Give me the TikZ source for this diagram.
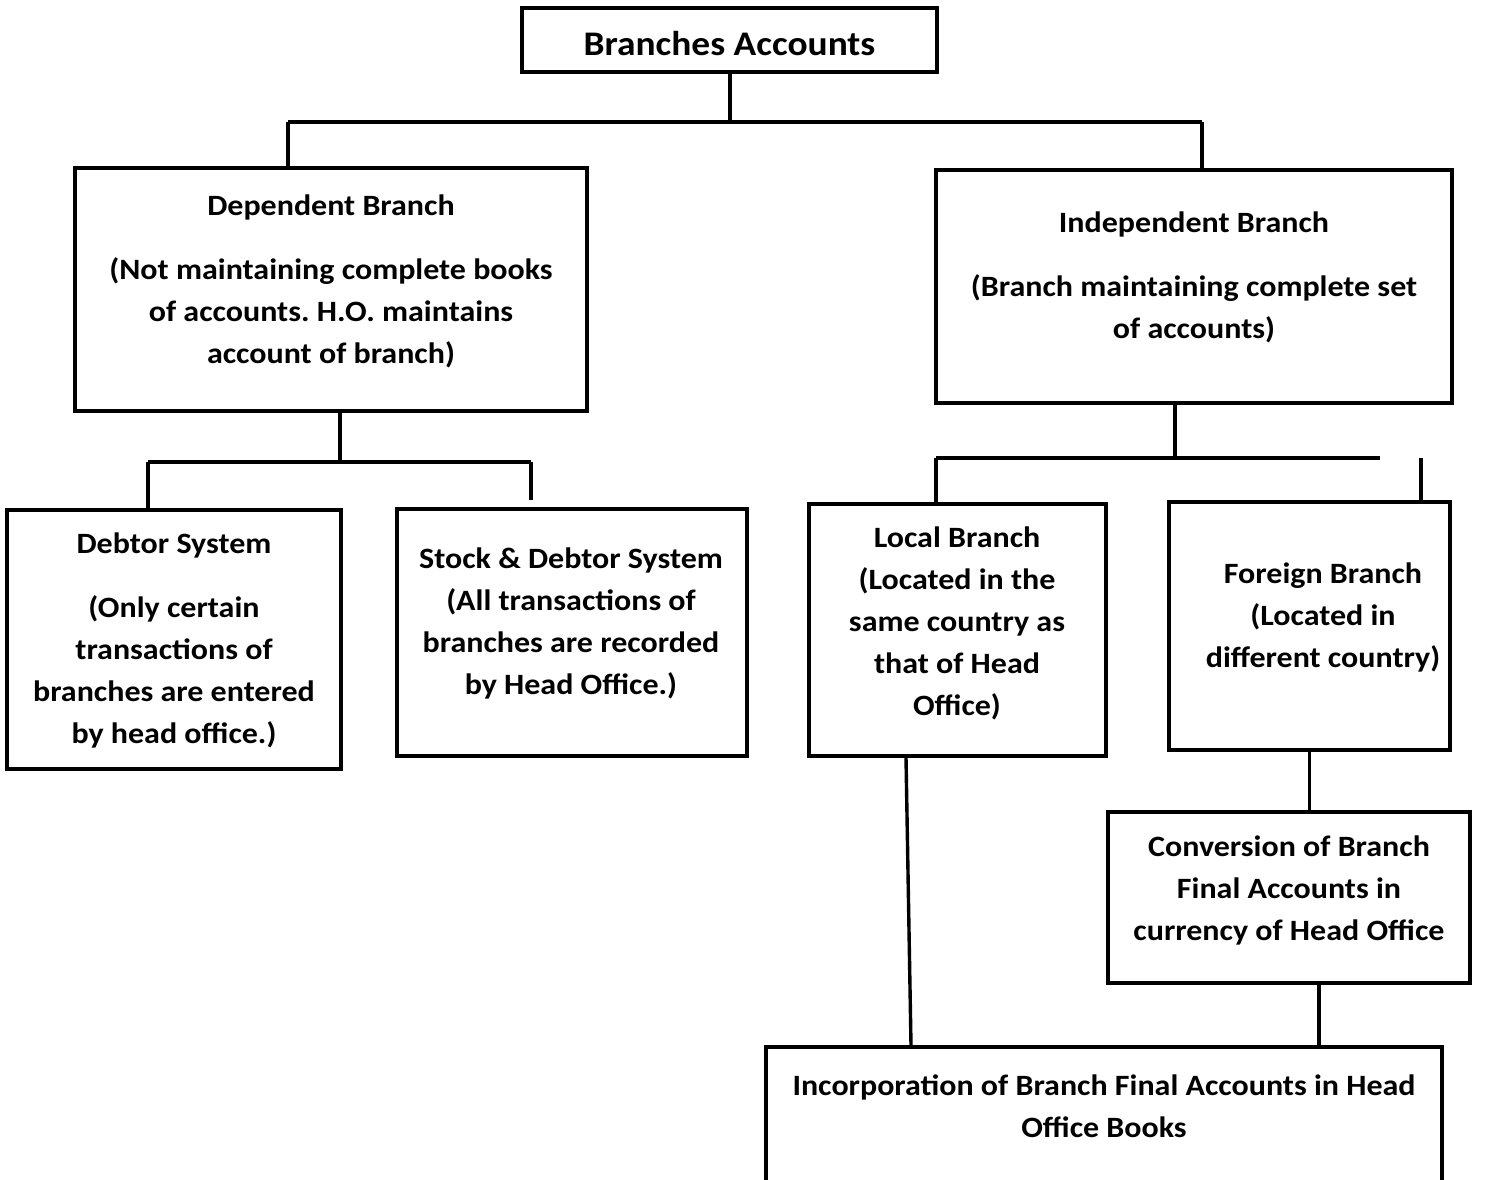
\documentclass[tikz,border=0pt]{standalone}
\usepackage{fontspec}
\setmainfont[FakeStretch=1.085]{Carlito}
\frenchspacing
\tikzset{
  box/.style 2 args={draw,line width=3.4pt,minimum width=#1,minimum height=#2,inner sep=0pt},
  txt/.style={align=center,inner sep=0pt,font=\bfseries\fontsize{29.5}{42}\selectfont},
  link/.style={line width=3.4pt}
}
\begin{document}
\begin{tikzpicture}[x=1pt,y=-1pt]
\useasboundingbox (0,0) rectangle (1488,1180);
% boxes
\node[box={415pt}{64pt}] (title) at (729.5,40) {};
\node[box={512pt}{243pt}] (dep) at (331,289.5) {};
\node[box={516pt}{233pt}] (indep) at (1194,286.5) {};
\node[box={334pt}{259pt}] (debtor) at (174,639.5) {};
\node[box={350pt}{247pt}] (stock) at (572,632.5) {};
\node[box={297pt}{252pt}] (local) at (957.5,630) {};
\node[box={281pt}{248pt}] (foreign) at (1309.5,626) {};
\node[box={362pt}{171pt}] (conv) at (1289,897.5) {};
\node[box={676pt}{170pt}] (incorp) at (1104,1132) {};
% texts
\node[txt,font=\bfseries\fontsize{34.5}{42}\selectfont] (titletext) at (729.5,44) {Branches Accounts};
\node[txt] (deptext) at (331,281) {Dependent Branch\\[22pt]
  (Not maintaining complete books\\ of accounts. H.O. maintains\\ account of branch)};
\node[txt] (indeptext) at (1194,277) {Independent Branch\\[22pt]
  (Branch maintaining complete set\\ of accounts)};
\node[txt] (debtortext) at (174,640) {Debtor System\\[22pt]
  (Only certain\\ transactions of\\ branches are entered\\ by head office.)};
\node[txt] (stocktext) at (571,623.5) {Stock \& Debtor System\\ (All transactions of\\
  branches are recorded\\ by Head Office.)};
\node[txt] (localtext) at (957,623) {Local Branch\\ (Located in the\\ same country as\\
  that of Head\\ Office)};
\node[txt] (foreigntext) at (1323,617) {Foreign Branch\\ (Located in\\ different country)};
\node[txt] (convtext) at (1289,890) {Conversion of Branch\\ Final Accounts in\\
  currency of Head Office};
\node[txt] (incorptext) at (1104,1106) {Incorporation of Branch Final Accounts in Head\\
  Office Books};
% connectors
\coordinate (j1) at (730,122);
\coordinate (j1l) at (288,122);
\coordinate (j1r) at (1202,122);
\coordinate (j2) at (340,462);
\coordinate (j2l) at (148,462);
\coordinate (j2r) at (531,462);
\coordinate (j3) at (1175,458);
\coordinate (j3l) at (936,458);
\coordinate (j3r) at (1380,458);
\coordinate (k3) at (1421,458);
\draw[link] (title.south -| j1) -- (j1);
\draw[link] (j1l) -- (j1r);
\draw[link] (j1l) -- (j1l |- dep.north);
\draw[link] (j1r) -- (j1r |- indep.north);
\draw[link] (dep.south -| j2) -- (j2);
\draw[link] (j2l) -- (j2r);
\draw[link] (j2l) -- (j2l |- debtor.north);
\draw[link] (j2r) -- ([yshift=7pt]j2r |- stock.north);
\draw[link] (indep.south -| j3) -- (j3);
\draw[link] (j3l) -- (j3r);
\draw[link] (j3l) -- (j3l |- local.north);
\draw[link] (k3) -- (k3 |- foreign.north);
\draw[link] (foreign.south) -- (foreign.south |- conv.north);
\draw[link] (local.south -| 906,0) -- (incorp.north -| 911,0);
\draw[link] (conv.south -| 1319,0) -- (incorp.north -| 1319,0);
\end{tikzpicture}
\end{document}
